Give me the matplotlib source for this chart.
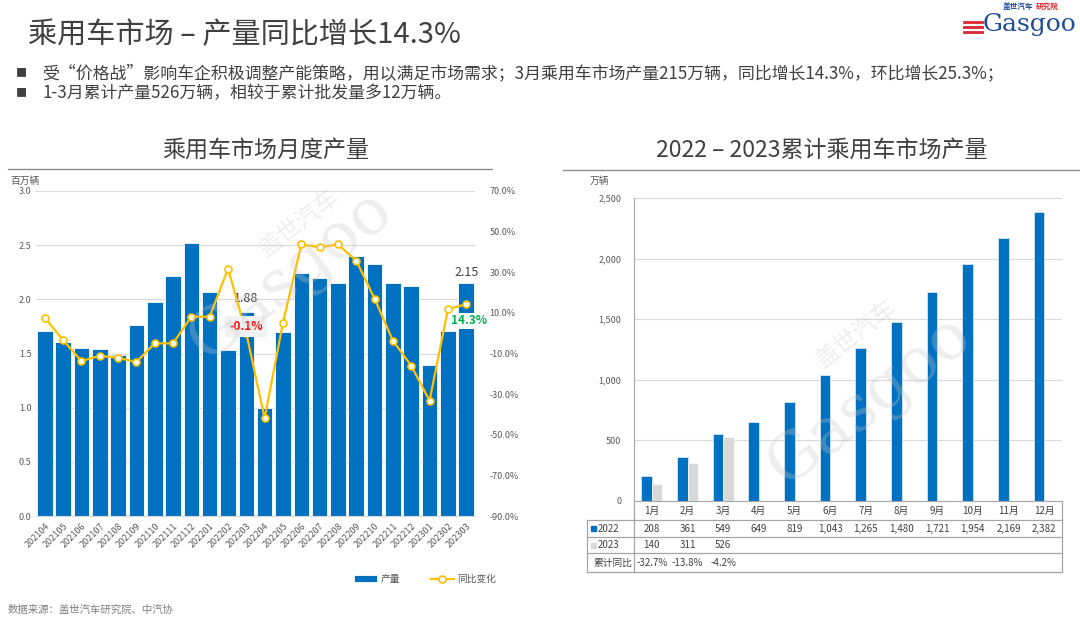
import numpy as np
import matplotlib
matplotlib.use("Agg")
import matplotlib.pyplot as plt
from matplotlib.patches import Rectangle
from matplotlib.lines import Line2D
from matplotlib.transforms import blended_transform_factory

plt.rcParams['font.family'] = ['Noto Sans CJK SC', 'DejaVu Sans']

# ---- data ----
months = ['202104', '202105', '202106', '202107', '202108', '202109',
          '202110', '202111', '202112', '202201', '202202', '202203',
          '202204', '202205', '202206', '202207', '202208', '202209',
          '202210', '202211', '202212', '202301', '202302', '202303']
output = [1.71, 1.61, 1.55, 1.54, 1.49, 1.76, 1.98, 2.22, 2.52, 2.07, 1.53, 1.88,
          1.00, 1.70, 2.24, 2.20, 2.15, 2.40, 2.33, 2.15, 2.12, 1.39, 1.71, 2.15]
yoy = [7.6, -3.4, -13.7, -11.1, -12.1, -14.2, -5.0, -5.0, 8.1, 8.1, 31.7, -0.1,
       -41.9, 5.2, 43.7, 42.3, 43.7, 35.7, 17.0, -3.7, -16.0, -33.2, 11.8, 14.3]

cum_months = ['1月', '2月', '3月', '4月', '5月', '6月', '7月', '8月', '9月', '10月', '11月', '12月']
cum_2022 = [208, 361, 549, 649, 819, 1043, 1265, 1480, 1721, 1954, 2169, 2382]
cum_2023 = [140, 311, 526]
cum_yoy = ['-32.7%', '-13.8%', '-4.2%']

BLUE = '#0070C0'
LGREY = '#D9D9D9'
GOLD = '#FFC000'
TXT = '#404040'
TICK = '#595959'

W, H = 1080, 625
fig = plt.figure(figsize=(W / 100, H / 100), dpi=100)


def box(l, t, r, b):
    return [l / W, 1 - b / H, (r - l) / W, (b - t) / H]


def ftext(x, y, s, **kw):
    fig.text(x / W, 1 - y / H, s, **kw)


# ---- header ----
ftext(28, 35, '乘用车市场 – 产量同比增长14.3%', fontsize=21, color=TXT, va='center')
ftext(16, 73, '■', fontsize=8, color=TXT, va='center')
ftext(42, 73, '受“价格战”影响车企积极调整产能策略，用以满足市场需求；3月乘用车市场产量215万辆，同比增长14.3%，环比增长25.3%；',
      fontsize=12.2, color=TXT, va='center')
ftext(16, 93, '■', fontsize=8, color=TXT, va='center')
ftext(42, 93, '1-3月累计产量526万辆，相较于累计批发量多12万辆。', fontsize=12.2, color=TXT, va='center')

# logo
ftext(1003, 6, '盖世汽车', fontsize=5.5, color='#1F4E99', va='center', fontweight='bold')
ftext(1036, 6, '研究院', fontsize=5.5, color='#D9272E', va='center', fontweight='bold')
ftext(1076, 25, 'Gasgoo', fontsize=18, color='#1F4E99', va='center', ha='right',
      family='DejaVu Serif')
for yy in (22, 27, 32):
    fig.add_artist(Line2D([964 / W, 982 / W], [1 - yy / H, 1 - yy / H], color='#D9272E', lw=2))

# panel titles and rules
ftext(266, 150, '乘用车市场月度产量', fontsize=16.6, color=TXT, ha='center', va='center')
ftext(822, 150, '2022 – 2023累计乘用车市场产量', fontsize=16.6, color=TXT, ha='center', va='center')
fig.add_artist(Line2D([8 / W, 492 / W], [1 - 169 / H] * 2, color='#8C8C8C', lw=1))
fig.add_artist(Line2D([563 / W, 1080 / W], [1 - 170 / H] * 2, color='#8C8C8C', lw=1))

ftext(10, 181, '百万辆', fontsize=7, color=TICK, va='center')
ftext(590, 181, '万辆', fontsize=7, color=TICK, va='center')
ftext(8, 610, '数据来源：盖世汽车研究院、中汽协', fontsize=7.5, color='#7F7F7F', va='center')

# ---- left chart ----
ax1 = fig.add_axes(box(35.6, 191, 475.4, 516))
x = np.arange(len(months))
ax1.bar(x, output, width=0.85, color=BLUE, edgecolor='white', linewidth=0.6, zorder=2, label='产量')
ax1.set_xlim(-0.5, len(months) - 0.5)
ax1.set_ylim(0, 3)
ax1.set_yticks(np.arange(0, 3.01, 0.5))
ax1.set_yticklabels([f'{v:.1f}' for v in np.arange(0, 3.01, 0.5)])
ax1.grid(axis='y', color='#D9D9D9', lw=0.8, zorder=0)
ax1.set_xticks(x)
ax1.set_xticklabels(months, rotation=45, ha='right', rotation_mode='anchor')
for s in ax1.spines.values():
    s.set_visible(False)
ax1.spines['bottom'].set_visible(True)
ax1.spines['bottom'].set_color('#D9D9D9')
ax1.tick_params(length=0, labelsize=6.5, colors=TICK, pad=3)
ax1.tick_params(axis='x', pad=4)

ax2 = ax1.twinx()
ax2.plot(x, yoy, color=GOLD, lw=1.6, marker='o', ms=5, mfc='white', mec=GOLD, mew=1.2, zorder=3,
         label='同比变化')
ax2.set_ylim(-90, 70)
ax2.set_yticks(np.arange(-90, 71, 20))
ax2.set_yticklabels([f'{v:.1f}%' for v in np.arange(-90, 71, 20)])
for s in ax2.spines.values():
    s.set_visible(False)
ax2.tick_params(length=0, labelsize=6.5, colors=TICK, pad=10)

i88 = months.index('202203')
ax1.annotate(f'{output[i88]:.2f}', (i88, output[i88]), xytext=(0, 10), textcoords='offset points',
             ha='center', va='center', fontsize=9, color=TXT, zorder=5)
ax1.annotate(f'{output[-1]:.2f}', (len(months) - 1, output[-1]), xytext=(0, 7.5), textcoords='offset points',
             ha='center', va='center', fontsize=9, color=TXT, zorder=5)
ax2.annotate(f'{yoy[i88]:.1f}%', (i88, yoy[i88]), xytext=(0, 5), textcoords='offset points',
             ha='center', va='center', fontsize=8.5, color='#FF0000', fontweight='bold', zorder=6,
             bbox=dict(boxstyle='square,pad=0.35', fc='#F2F2F2', ec='none'))
ax2.annotate(f'{yoy[-1]:.1f}%', (len(months) - 1, yoy[-1]), xytext=(2, -12), textcoords='offset points',
             ha='center', va='center', fontsize=8.5, color='#00B050', fontweight='bold', zorder=6,
             bbox=dict(boxstyle='square,pad=0.15', fc='white', ec='none'))

h1, l1 = ax1.get_legend_handles_labels()
h2, l2 = ax2.get_legend_handles_labels()
ax1.legend(h1 + h2, l1 + l2, loc='center', bbox_to_anchor=(425 / W, 1 - 579 / H),
           bbox_transform=fig.transFigure, ncol=2, frameon=False, fontsize=7, handlelength=2.4,
           handleheight=0.7, columnspacing=3.2, handletextpad=0.3, labelcolor=TICK)

# watermark
ax2.text(0.58, 0.74, 'Gasgoo', transform=ax1.transAxes, rotation=38, fontsize=46, color='#C8C8C8',
         alpha=0.3, ha='center', va='center', family='DejaVu Serif', zorder=10)
ax2.text(0.6, 0.9, '盖世汽车', transform=ax1.transAxes, rotation=38, fontsize=17, color='#C8C8C8',
         alpha=0.3, ha='center', va='center', zorder=10)

# ---- right chart ----
ax3 = fig.add_axes(box(634, 198, 1062, 501))
xc = np.arange(len(cum_months))
bw = 0.29
ax3.bar(xc - bw / 2, cum_2022, width=bw, color=BLUE, edgecolor='white', linewidth=0.4, zorder=2)
ax3.bar(xc[:len(cum_2023)] + bw / 2, cum_2023, width=bw, color=LGREY, edgecolor='white', linewidth=0.4,
        zorder=2)
ax3.set_xlim(-0.5, len(cum_months) - 0.5)
ax3.set_ylim(0, 2500)
ax3.set_yticks(np.arange(0, 2501, 500))
ax3.set_yticklabels([f'{v:,}' for v in range(0, 2501, 500)])
ax3.set_xticks([])
ax3.grid(axis='y', color='#D9D9D9', lw=0.8, zorder=0)
for s in ax3.spines.values():
    s.set_visible(False)
ax3.spines['left'].set_visible(True)
ax3.spines['left'].set_color('#A6A6A6')
ax3.spines['bottom'].set_visible(True)
ax3.spines['bottom'].set_color('#A6A6A6')
ax3.tick_params(length=0, labelsize=6.5, colors=TICK, pad=9)

ax3.text(0.55, 0.33, 'Gasgoo', transform=ax3.transAxes, rotation=38, fontsize=46, color='#C8C8C8',
         alpha=0.3, ha='center', va='center', family='DejaVu Serif', zorder=10)
ax3.text(0.52, 0.55, '盖世汽车', transform=ax3.transAxes, rotation=38, fontsize=17, color='#C8C8C8',
         alpha=0.3, ha='center', va='center', zorder=10)

# data table under the right chart
ax_h = 501 - 198
row_px = [0, 19, 36, 52, 71]
row_y = [-p / ax_h for p in row_px]
lab_x = (587 - 634) / (1062 - 634)
tr = blended_transform_factory(ax3.transData, ax3.transAxes)
LC = '#A6A6A6'
kw = dict(transform=ax3.transAxes, color=LC, lw=0.9, clip_on=False)
ax3.plot([0, 0], [row_y[0], row_y[1]], **kw)
ax3.plot([1, 1], [row_y[0], row_y[-1]], **kw)
for yy in row_y[1:]:
    ax3.plot([lab_x, 1], [yy, yy], **kw)
ax3.plot([lab_x, lab_x], [row_y[1], row_y[-1]], **kw)
ax3.plot([0, 0], [row_y[1], row_y[-1]], **kw)

mid = [(row_y[k] + row_y[k + 1]) / 2 for k in range(4)]
tk = dict(fontsize=7, color=TXT, ha='center', va='center', transform=tr, clip_on=False)
for i, m in enumerate(cum_months):
    ax3.text(i, mid[0], m, **tk)
for i, v in enumerate(cum_2022):
    ax3.text(i, mid[1], f'{v:,}', **tk)
for i, v in enumerate(cum_2023):
    ax3.text(i, mid[2], f'{v:,}', **tk)
for i, v in enumerate(cum_yoy):
    ax3.text(i, mid[3], v, **tk)

sq = 5 / (1062 - 634)
sqh = 5 / ax_h
for k, (name, col) in enumerate([('2022', BLUE), ('2023', LGREY)]):
    ax3.add_patch(Rectangle((lab_x + 4 / 428, mid[k + 1] - sqh / 2), sq, sqh, transform=ax3.transAxes,
                            color=col, clip_on=False))
    ax3.text(lab_x + 11 / 428, mid[k + 1], name, transform=ax3.transAxes, fontsize=7, color=TXT,
             ha='left', va='center')
ax3.text(-2 / 428, mid[3], '累计同比', transform=ax3.transAxes, fontsize=7, color=TXT, ha='right', va='center')

fig.savefig('out.png', dpi=100)
